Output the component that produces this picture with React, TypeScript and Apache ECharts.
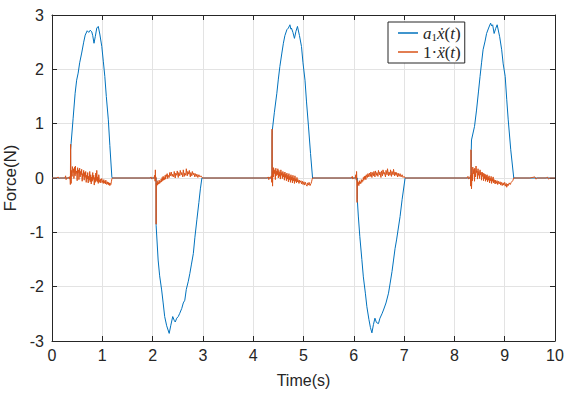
import React, { useEffect, useRef } from "react";
import * as echarts from "echarts";

const xTicks = [0, 1, 2, 3, 4, 5, 6, 7, 8, 9, 10];
const yTicks = [-3, -2, -1, 0, 1, 2, 3];

const velName = "a1ẋ(t)";
const accName = "1·ẍ(t)";

// a1 * x'(t), pulses separated by zero stretches
const velPulse1 = [
  [0, 0], [0.37, 0], [0.37, 0.52], [0.38, 0.64], [0.42, 1.1], [0.46, 1.56], [0.49, 1.8], [0.52, 1.93],
  [0.55, 2.12], [0.59, 2.3], [0.63, 2.5], [0.66, 2.63], [0.7, 2.71], [0.73, 2.68], [0.76, 2.72], [0.79, 2.69],
  [0.81, 2.62], [0.835, 2.48], [0.86, 2.6], [0.89, 2.76], [0.92, 2.79], [0.95, 2.65], [0.99, 2.42], [1.02, 2.15],
  [1.05, 1.87], [1.08, 1.5], [1.12, 1.07], [1.15, 0.6], [1.19, 0.02], [1.2, 0],
];
const velPulse2 = [
  [2.07, 0], [2.07, -0.87], [2.11, -1.51], [2.14, -1.8], [2.18, -2.06], [2.21, -2.3], [2.24, -2.55], [2.28, -2.72],
  [2.33, -2.86], [2.36, -2.72], [2.4, -2.55], [2.43, -2.62], [2.45, -2.65], [2.48, -2.58], [2.51, -2.55], [2.54, -2.49],
  [2.58, -2.4], [2.61, -2.3], [2.64, -2.25], [2.67, -2.05], [2.71, -1.9], [2.74, -1.76], [2.77, -1.6], [2.81, -1.39],
  [2.84, -1.1], [2.88, -0.77], [2.92, -0.45], [2.95, -0.2], [2.98, 0],
];
const velPulse3 = [
  [4.375, 0], [4.375, 0.7], [4.38, 0.88], [4.42, 1.2], [4.47, 1.56], [4.5, 1.82], [4.53, 2.05], [4.57, 2.3],
  [4.6, 2.48], [4.63, 2.62], [4.67, 2.73], [4.7, 2.76], [4.72, 2.8], [4.73, 2.82], [4.75, 2.74], [4.76, 2.76],
  [4.79, 2.68], [4.82, 2.57], [4.85, 2.7], [4.88, 2.79], [4.92, 2.62], [4.96, 2.42], [4.99, 2.12], [5.03, 1.8],
  [5.06, 1.4], [5.1, 0.94], [5.14, 0.45], [5.18, 0],
];
const velPulse4 = [
  [6.07, 0], [6.07, -0.4], [6.09, -0.7], [6.12, -1.08], [6.16, -1.5], [6.19, -1.82], [6.23, -2.12], [6.26, -2.37],
  [6.3, -2.6], [6.33, -2.75], [6.36, -2.85], [6.39, -2.7], [6.42, -2.58], [6.45, -2.66], [6.49, -2.68], [6.52, -2.58],
  [6.56, -2.5], [6.59, -2.43], [6.64, -2.3], [6.69, -2.12], [6.72, -1.95], [6.76, -1.72], [6.79, -1.51], [6.82, -1.3],
  [6.85, -1.14], [6.92, -0.71], [6.96, -0.4], [7.02, 0],
];
const velPulse5 = [
  [8.335, 0], [8.335, 0.52], [8.34, 0.7], [8.4, 0.95], [8.44, 1.25], [8.48, 1.6], [8.51, 1.87], [8.54, 2.12],
  [8.57, 2.36], [8.61, 2.52], [8.64, 2.66], [8.68, 2.76], [8.72, 2.85], [8.74, 2.8], [8.76, 2.82], [8.79, 2.66],
  [8.82, 2.75], [8.85, 2.82], [8.9, 2.6], [8.94, 2.36], [8.97, 2.1], [9.01, 1.87], [9.04, 1.45], [9.07, 1.07],
  [9.12, 0.52], [9.18, 0], [10, 0],
];

// 1 * x''(t)
const accHead = [[0, 0], [0.1, 0], [0.12, 0.02], [0.14, -0.01], [0.15, 0], [0.26, 0], [0.27, 0.04], [0.28, -0.03], [0.29, 0]];
const accSeg1 = [
  [0.33, 0], [0.34, 0.02], [0.35, -0.02], [0.36, 0.03], [0.365, -0.12], [0.37, 0.62], [0.375, 0.05], [0.38, -0.1],
  [0.39, 0.14], [0.4, 0.03], [0.405, 0.21], [0.42, 0.1], [0.43, 0.17], [0.435, -0.01], [0.45, 0.2], [0.46, 0.04],
  [0.465, 0.22], [0.475, 0.08], [0.49, 0.13], [0.5, -0.05], [0.51, 0.19], [0.515, 0.09], [0.53, 0.15], [0.535, -0.03],
  [0.55, 0.18], [0.56, 0.02], [0.565, 0.12], [0.58, 0.06], [0.59, 0.16], [0.6, -0.06], [0.61, 0.08], [0.62, 0.03],
  [0.63, 0.14], [0.64, -0.04], [0.645, 0.1], [0.66, 0.01], [0.67, 0.12], [0.68, -0.08], [0.69, 0.05], [0.7, -0.02],
  [0.71, 0.1], [0.72, -0.09], [0.725, 0.03], [0.74, -0.04], [0.75, 0.12], [0.76, -0.07], [0.77, 0.06], [0.78, -0.11],
  [0.79, 0.02], [0.8, -0.06], [0.81, 0.1], [0.815, -0.03], [0.83, 0.05], [0.84, -0.13], [0.85, 0.01], [0.86, -0.08],
  [0.87, 0.09], [0.88, -0.05], [0.89, 0.14], [0.9, -0.07], [0.91, 0.02], [0.92, -0.1], [0.93, 0.06], [0.94, -0.03],
  [0.95, -0.08], [0.96, -0.02], [0.97, -0.09], [0.98, -0.04], [0.99, -0.01], [1.0, -0.08], [1.01, -0.05], [1.02, -0.1],
  [1.03, -0.03], [1.04, -0.09], [1.05, -0.06], [1.06, -0.11], [1.07, -0.04], [1.08, -0.1], [1.09, -0.12], [1.1, -0.07],
  [1.11, -0.11], [1.12, -0.08], [1.13, -0.13], [1.14, -0.09], [1.15, -0.14], [1.16, -0.1], [1.17, -0.12], [1.18, -0.07],
  [1.19, -0.02], [1.2, 0],
];
const accSeg2 = [
  [1.95, 0], [1.97, 0.02], [1.98, -0.02], [1.99, 0], [2.03, 0], [2.04, 0.05], [2.05, -0.06], [2.055, 0.15],
  [2.06, -0.05], [2.065, 0.02], [2.07, -0.85], [2.075, -0.1], [2.08, -0.15], [2.09, -0.05], [2.1, -0.13], [2.11, -0.08],
  [2.12, -0.11], [2.13, -0.04], [2.14, -0.1], [2.15, -0.06], [2.16, -0.08], [2.17, -0.02], [2.18, -0.07], [2.19, 0.01],
  [2.2, -0.05], [2.21, 0.03], [2.22, -0.04], [2.23, 0.01], [2.24, -0.03], [2.25, 0.05], [2.26, -0.02], [2.27, 0.06],
  [2.28, 0.03], [2.29, 0.08], [2.3, -0.01], [2.31, 0.05], [2.33, 0.01], [2.34, 0.1], [2.36, 0.04], [2.37, 0.11],
  [2.39, 0.03], [2.4, 0.07], [2.42, 0.02], [2.43, 0.12], [2.45, 0.0], [2.46, 0.09], [2.48, 0.05], [2.49, 0.13],
  [2.51, 0.01], [2.52, 0.1], [2.54, 0.04], [2.55, 0.14], [2.57, 0.06], [2.58, 0.1], [2.6, 0.02], [2.61, 0.15],
  [2.63, 0.03], [2.64, 0.09], [2.66, 0.05], [2.67, 0.17], [2.69, 0.04], [2.7, 0.12], [2.72, 0.07], [2.73, 0.14],
  [2.75, 0.02], [2.76, 0.1], [2.78, 0.04], [2.79, 0.12], [2.81, 0.06], [2.82, 0.09], [2.84, 0.02], [2.85, 0.08],
  [2.87, 0.03], [2.88, 0.07], [2.9, 0.01], [2.92, 0.06], [2.94, 0.02], [2.96, 0.04], [2.98, 0.01], [3.0, 0],
];
const accSeg3 = [
  [4.28, 0], [4.3, 0.02], [4.31, -0.03], [4.32, 0.01], [4.35, 0], [4.36, 0.04], [4.37, -0.08], [4.375, 0.9],
  [4.38, 0.05], [4.385, -0.15], [4.39, 0.12], [4.4, 0.02], [4.405, 0.19], [4.42, 0.08], [4.43, 0.15], [4.44, -0.03],
  [4.45, 0.18], [4.455, 0.04], [4.47, 0.13], [4.48, 0.06], [4.49, 0.17], [4.5, 0.0], [4.51, 0.14], [4.52, 0.03],
  [4.53, 0.11], [4.54, -0.02], [4.55, 0.15], [4.56, 0.05], [4.57, 0.1], [4.58, -0.01], [4.59, 0.12], [4.6, 0.02],
  [4.61, 0.08], [4.62, -0.04], [4.63, 0.11], [4.64, 0.01], [4.65, 0.07], [4.66, -0.05], [4.67, 0.09], [4.68, -0.02],
  [4.69, 0.05], [4.7, -0.07], [4.71, 0.08], [4.72, -0.03], [4.73, 0.03], [4.74, -0.08], [4.75, 0.06], [4.76, -0.04],
  [4.77, 0.02], [4.78, -0.09], [4.79, 0.05], [4.8, -0.05], [4.81, 0.0], [4.82, -0.1], [4.83, 0.04], [4.84, -0.06],
  [4.85, -0.02], [4.86, -0.09], [4.87, 0.01], [4.88, -0.07], [4.89, -0.03], [4.91, -0.1], [4.92, -0.04], [4.93, -0.08],
  [4.95, -0.05], [4.96, -0.11], [4.98, -0.06], [4.99, -0.12], [5.01, -0.07], [5.02, -0.13], [5.04, -0.08], [5.05, -0.12],
  [5.07, -0.15], [5.08, -0.09], [5.1, -0.13], [5.11, -0.08], [5.13, -0.14], [5.15, -0.1], [5.16, -0.07], [5.17, -0.03],
  [5.18, 0],
];
const accSeg4 = [
  [5.95, 0], [5.97, 0.03], [5.98, -0.02], [5.99, 0], [6.03, 0], [6.04, 0.06], [6.05, -0.04], [6.055, 0.12],
  [6.06, -0.02], [6.065, -0.45], [6.07, -0.05], [6.08, -0.13], [6.09, -0.08], [6.1, -0.14], [6.11, -0.05], [6.12, -0.11],
  [6.13, -0.07], [6.14, -0.1], [6.15, -0.03], [6.16, -0.08], [6.17, -0.04], [6.18, -0.06], [6.19, 0.01], [6.2, -0.04],
  [6.21, 0.03], [6.22, -0.02], [6.23, 0.04], [6.24, -0.03], [6.25, 0.06], [6.27, 0.01], [6.28, 0.08], [6.3, 0.02],
  [6.31, 0.09], [6.33, 0.03], [6.34, 0.11], [6.36, 0.01], [6.37, 0.1], [6.39, 0.04], [6.4, 0.12], [6.42, 0.02],
  [6.43, 0.13], [6.45, 0.05], [6.46, 0.1], [6.48, 0.03], [6.49, 0.14], [6.51, 0.06], [6.52, 0.11], [6.54, 0.01],
  [6.55, 0.13], [6.57, 0.04], [6.58, 0.15], [6.6, 0.07], [6.61, 0.1], [6.63, 0.02], [6.64, 0.14], [6.66, 0.06],
  [6.67, 0.17], [6.69, 0.04], [6.7, 0.11], [6.72, 0.05], [6.73, 0.15], [6.75, 0.03], [6.76, 0.12], [6.78, 0.06],
  [6.79, 0.16], [6.81, 0.04], [6.82, 0.11], [6.84, 0.05], [6.85, 0.1], [6.87, 0.02], [6.88, 0.09], [6.9, 0.03],
  [6.92, 0.08], [6.94, 0.02], [6.96, 0.06], [6.98, 0.01], [7.0, 0.03], [7.02, 0],
];
const accSeg5 = [
  [8.25, 0], [8.27, 0.03], [8.28, -0.02], [8.29, 0], [8.31, 0], [8.32, 0.05], [8.325, -0.15], [8.33, 0.52],
  [8.335, 0.03], [8.34, -0.2], [8.35, 0.09], [8.36, -0.05], [8.365, 0.2], [8.38, 0.08], [8.39, 0.16], [8.4, -0.06],
  [8.405, 0.18], [8.42, 0.02], [8.43, 0.22], [8.44, 0.1], [8.45, 0.13], [8.46, -0.02], [8.47, 0.17], [8.475, 0.05],
  [8.49, 0.12], [8.5, -0.01], [8.51, 0.15], [8.52, 0.06], [8.53, 0.1], [8.54, -0.04], [8.55, 0.11], [8.56, 0.03],
  [8.57, 0.09], [8.58, -0.05], [8.59, 0.08], [8.6, -0.01], [8.61, 0.07], [8.62, -0.06], [8.63, 0.05], [8.64, -0.03],
  [8.65, 0.06], [8.66, -0.07], [8.67, 0.02], [8.68, -0.04], [8.69, 0.04], [8.7, -0.09], [8.71, 0.0], [8.72, -0.05],
  [8.73, 0.03], [8.74, -0.1], [8.75, -0.01], [8.76, -0.06], [8.77, 0.02], [8.78, -0.09], [8.79, -0.03], [8.81, -0.11],
  [8.82, -0.04], [8.83, -0.1], [8.85, -0.05], [8.86, -0.12], [8.88, -0.06], [8.89, -0.11], [8.91, -0.07], [8.92, -0.13],
  [8.94, -0.08], [8.95, -0.14], [8.97, -0.09], [8.98, -0.13], [9.0, -0.08], [9.01, -0.15], [9.03, -0.1], [9.04, -0.17],
  [9.06, -0.11], [9.07, -0.14], [9.09, -0.09], [9.11, -0.12], [9.13, -0.08], [9.16, -0.05], [9.18, 0],
];
const accTail = [[9.5, 0], [9.6, 0.02], [9.62, -0.02], [9.65, 0], [9.83, 0], [9.85, 0.02], [9.87, -0.02], [9.9, 0], [10, 0]];

const BLUE = "#0072BD";
const ORANGE = "#D95319";
const AXIS = "#262626";
const GRID = "#e3e3e3";
const SANS = "'Liberation Sans', Arial, Helvetica, sans-serif";
const MATH = "'Liberation Serif', 'DejaVu Serif', serif";

export default function App() {
  const ref = useRef<HTMLDivElement>(null);
  useEffect(() => {
    if (!ref.current) return;
    const chart = echarts.init(ref.current, undefined, { renderer: "svg" });
    const velocity = [...velPulse1, ...velPulse2, ...velPulse3, ...velPulse4, ...velPulse5];
    const accel = [...accHead, ...accSeg1, ...accSeg2, ...accSeg3, ...accSeg4, ...accSeg5, ...accTail];
    const axisCommon = {
      axisLine: { show: true, onZero: false, lineStyle: { color: AXIS, width: 1 } },
      axisTick: { show: true, inside: true, length: 5, lineStyle: { color: AXIS } },
    };
    chart.setOption({
      animation: false,
      backgroundColor: "#ffffff",
      grid: { left: 52, right: 25, top: 15, bottom: 53, show: false, containLabel: false, outerBoundsMode: "none" },
      legend: {
        orient: "vertical",
        left: 388,
        top: 22,
        padding: [2, 4, 2, 10],
        itemGap: 1,
        itemWidth: 20,
        itemHeight: 1.5,
        icon: "rect",
        backgroundColor: "#ffffff",
        borderColor: AXIS,
        borderWidth: 1,
        borderRadius: 0,
        data: [velName, accName],
        formatter: (name: string) =>
          name === velName
            ? "{i|a}{sub|1}{i|ẋ}{r|(}{i|t}{r|)}"
            : "{r|1·}{i|ẍ}{r|(}{i|t}{r|)}",
        textStyle: {
          color: AXIS,
          fontFamily: MATH,
          fontSize: 16,
          lineHeight: 18,
          rich: {
            i: { fontFamily: MATH, fontStyle: "italic", fontSize: 17, color: AXIS, lineHeight: 18 },
            r: { fontFamily: MATH, fontSize: 17, color: AXIS, lineHeight: 18 },
            sub: { fontFamily: MATH, fontSize: 11, color: AXIS, lineHeight: 14, verticalAlign: "bottom" },
          },
        },
      },
      xAxis: [
        {
          type: "value",
          min: xTicks[0],
          max: xTicks[xTicks.length - 1],
          interval: 1,
          position: "bottom",
          name: "Time(s)",
          nameLocation: "middle",
          nameGap: 31,
          nameTextStyle: { color: AXIS, fontFamily: SANS, fontSize: 16 },
          ...axisCommon,
          axisLabel: { color: AXIS, fontFamily: SANS, fontSize: 16, margin: 6 },
          splitLine: { show: true, lineStyle: { color: GRID, width: 1 } },
        },
        {
          type: "value",
          min: xTicks[0],
          max: xTicks[xTicks.length - 1],
          interval: 1,
          position: "top",
          ...axisCommon,
          axisLabel: { show: false },
          splitLine: { show: false },
        },
      ],
      yAxis: [
        {
          type: "value",
          min: yTicks[0],
          max: yTicks[yTicks.length - 1],
          interval: 1,
          position: "left",
          name: "Force(N)",
          nameLocation: "middle",
          nameGap: 26,
          nameTextStyle: { color: AXIS, fontFamily: SANS, fontSize: 17 },
          ...axisCommon,
          axisLabel: { color: AXIS, fontFamily: SANS, fontSize: 16, margin: 8 },
          splitLine: { show: true, lineStyle: { color: GRID, width: 1 } },
        },
        {
          type: "value",
          min: yTicks[0],
          max: yTicks[yTicks.length - 1],
          interval: 1,
          position: "right",
          ...axisCommon,
          axisLabel: { show: false },
          splitLine: { show: false },
        },
      ],
      series: [
        {
          name: velName,
          type: "line",
          xAxisIndex: 0,
          yAxisIndex: 0,
          data: velocity,
          showSymbol: false,
          symbol: "none",
          lineStyle: { color: BLUE, width: 1 },
          itemStyle: { color: BLUE },
        },
        {
          name: accName,
          type: "line",
          xAxisIndex: 0,
          yAxisIndex: 0,
          data: accel,
          showSymbol: false,
          symbol: "none",
          lineStyle: { color: ORANGE, width: 1 },
          itemStyle: { color: ORANGE },
        },
      ],
    });
    return () => chart.dispose();
  }, []);
  return <div ref={ref} style={{ width: 580, height: 394, position: "absolute", left: 0, top: 0 }} />;
}
